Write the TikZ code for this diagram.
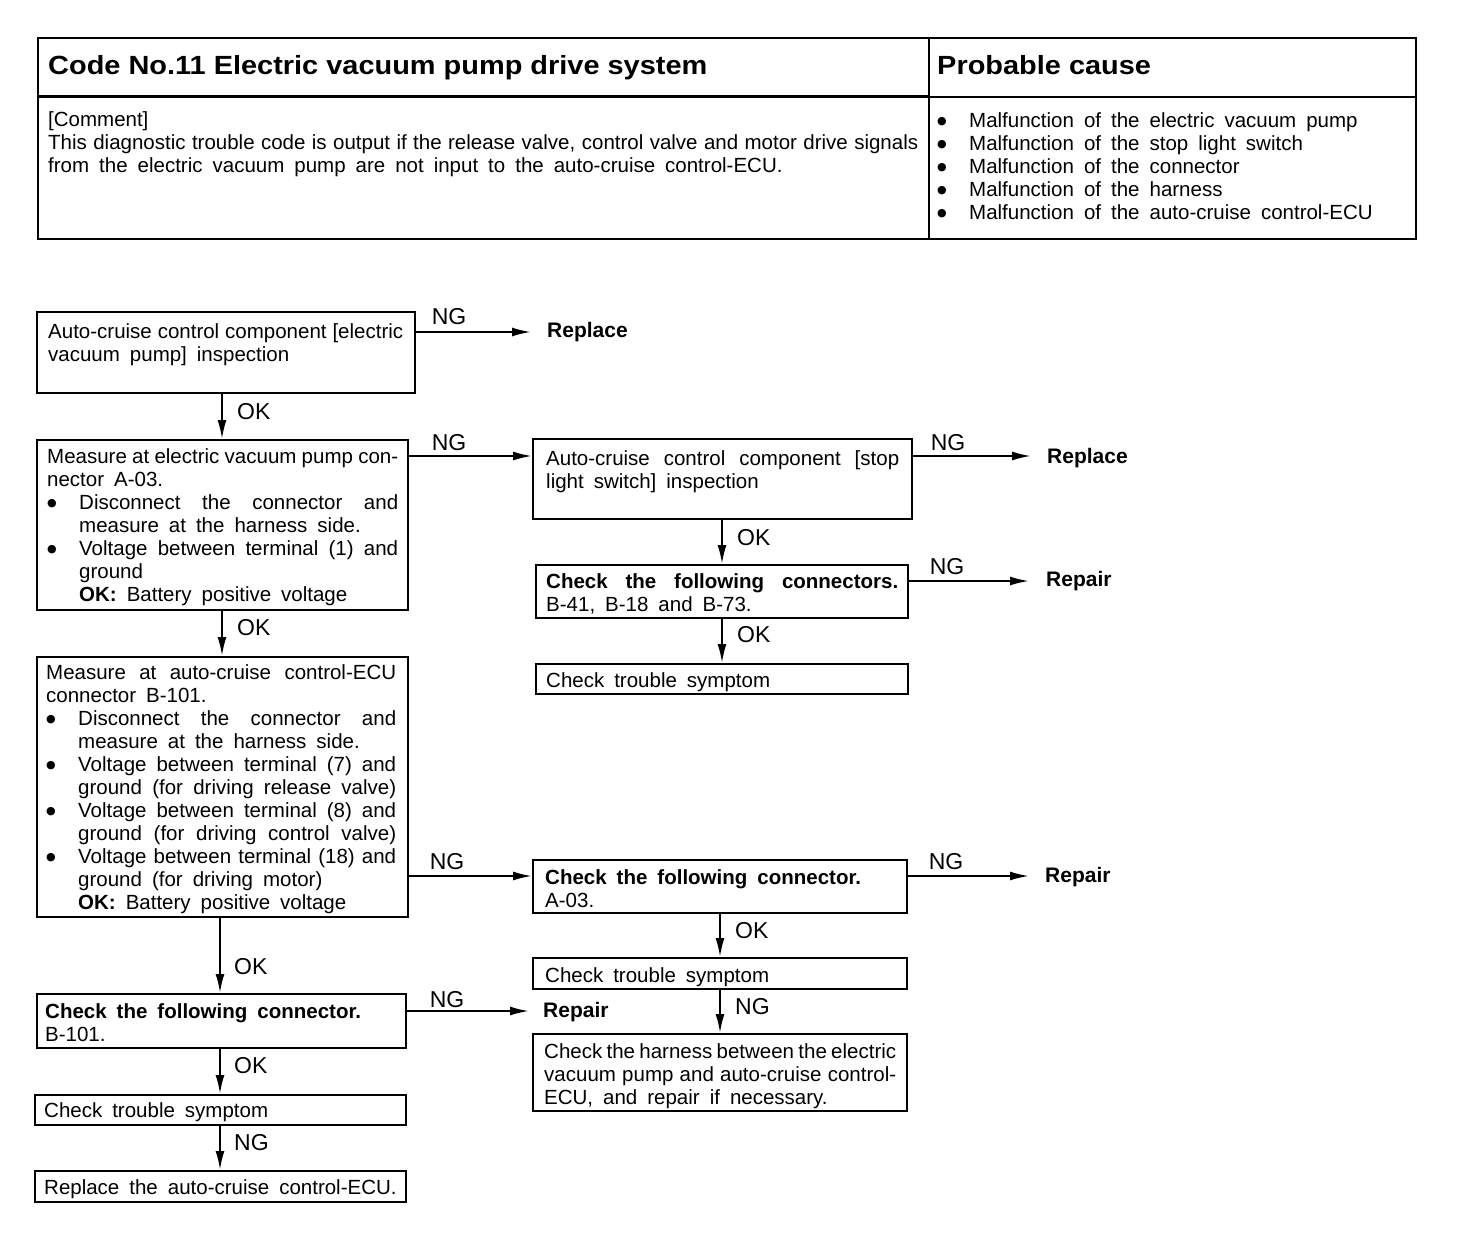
\documentclass[tikz,border=0pt]{standalone}
\usepackage{fontspec}
\setmainfont{Liberation Sans}
\newfontfamily\titlefont[FakeStretch=1.1]{Liberation Sans}
\newfontfamily\dvfont{DejaVu Sans}
\usetikzlibrary{arrows.meta,fit,calc}
\newcommand\nsp{\spaceskip=0.278em plus 30pt minus 0.1em\relax}
\newcommand\dotb{\raisebox{2.8pt}{\dvfont\fontsize{11}{11}\selectfont ●}}
\newcommand\jl[1]{\makebox[\hsize][s]{\nsp #1}}
\newcommand\bj[1]{\makebox[32pt][l]{\dotb}\makebox[\dimexpr\hsize-32pt\relax][s]{\nsp #1}}
\newcommand\indj[1]{\hspace*{32pt}\makebox[\dimexpr\hsize-32pt\relax][s]{\nsp #1}}
\newcommand\idn{\hspace*{32pt}}
\newcommand\rb[1]{\makebox[32pt][l]{\dotb}#1}
\newcommand\wsp{\spaceskip=10pt plus 6pt minus 4pt\relax}
\newcommand\st{\wsp\rule{0pt}{16pt}}
\begin{document}
\begin{tikzpicture}[x=1pt,y=-1pt,
  box/.style={draw, line width=2pt, inner sep=0pt},
  txt/.style={anchor=north west, inner sep=0pt, align=left, font=\fontsize{20.5}{23}\selectfont},
  lab/.style={inner sep=0pt, font=\fontsize{23}{24}\selectfont},
  term/.style={inner sep=0pt, anchor=west, font=\fontsize{21}{23}\selectfont\bfseries},
  arr/.style={line width=2pt, -{Latex[length=19pt,width=9pt]}},
  tline/.style={line width=2.4pt}]
\fill[white] (0,0) rectangle (1472,1232);
\useasboundingbox (0,0) rectangle (1472,1232);

% ---------- table ----------
\node[box, line width=2.4pt, fit={(38,38)(1416,239)}] (tab) {};
\node[box, line width=2.4pt, fit={(38,38)(929,96)}] (thl) {};
\node[box, line width=2.4pt, fit={(929,38)(1416,239)}] (thr) {};
\draw[tline] (thl.south west) -- (thl.south west -| tab.east);
\node[inner sep=0pt, anchor=base west, font=\fontsize{26.3}{30}\titlefont\bfseries] (title) at (48,74) {Code No.11 Electric vacuum pump drive system};
\node[inner sep=0pt, anchor=base west, font=\fontsize{26.3}{30}\titlefont\bfseries] (pc) at (937,74) {Probable cause};
\node[txt, text width=870pt] (comment) at (48,110) {\st[Comment]\\
\jl{This diagnostic trouble code is output if the release valve, control valve and motor drive signals}\\
from the electric vacuum pump are not input to the auto-cruise control-ECU.};
\node[txt, text width=460pt] (causes) at (937,111) {\st\rb{Malfunction of the electric vacuum pump}\\
\rb{Malfunction of the stop light switch}\\
\rb{Malfunction of the connector}\\
\rb{Malfunction of the harness}\\
\rb{Malfunction of the auto-cruise control-ECU}};

% ---------- boxes ----------
\node[box, fit={(37,312)(415,393)}] (b1) {};
\node[box, fit={(37,440)(408,610)}] (b2) {};
\node[box, fit={(533,439)(912,519)}] (b3) {};
\node[box, fit={(536,565)(908,618)}] (b4) {};
\node[box, fit={(536,664)(908,694)}] (b5) {};
\node[box, fit={(37,657)(408,917)}] (b6) {};
\node[box, fit={(533,860)(907,913)}] (b7) {};
\node[box, fit={(533,958)(907,989)}] (b8) {};
\node[box, fit={(533,1034)(907,1111)}] (b9) {};
\node[box, fit={(37,994)(406,1048)}] (b10) {};
\node[box, fit={(35,1095)(406,1125)}] (b11) {};
\node[box, fit={(35,1171)(406,1202)}] (b12) {};

% ---------- box texts ----------
\node[txt, text width=355pt] (t1) at (48,322) {\st\jl{Auto-cruise control component [electric}\\ vacuum pump] inspection};
\node[txt, text width=351pt] (t2) at (47,447) {\st\jl{Measure at electric vacuum pump con-}\\
nector A-03.\\
\bj{Disconnect the connector and}\\
\idn measure at the harness side.\\
\bj{Voltage between terminal (1) and}\\
\idn ground\\
\idn\textbf{OK:} Battery positive voltage};
\node[txt, text width=353pt] (t3) at (546,449) {\st\jl{Auto-cruise control component [stop}\\ light switch] inspection};
\node[txt, text width=352pt] (t4) at (546,572) {\st\jl{\textbf{Check the following connectors.}}\\ B-41, B-18 and B-73.};
\node[txt] (t5) at (546,671) {\st Check trouble symptom};
\node[txt, text width=350pt] (t6) at (46,663) {\st\jl{Measure at auto-cruise control-ECU}\\
connector B-101.\\
\bj{Disconnect the connector and}\\
\idn measure at the harness side.\\
\bj{Voltage between terminal (7) and}\\
\indj{ground (for driving release valve)}\\
\bj{Voltage between terminal (8) and}\\
\indj{ground (for driving control valve)}\\
\bj{Voltage between terminal (18) and}\\
\idn ground (for driving motor)\\
\idn\textbf{OK:} Battery positive voltage};
\node[txt] (t7) at (545,868) {\st\textbf{Check the following connector.}\\ A-03.};
\node[txt] (t8) at (545,966) {\st Check trouble symptom};
\node[txt, text width=352pt] (t9) at (544,1042) {\st\jl{Check the harness between the electric}\\
\jl{vacuum pump and auto-cruise control-}\\
ECU, and repair if necessary.};
\node[txt] (t10) at (45,1002) {\st\textbf{Check the following connector.}\\ B-101.};
\node[txt] (t11) at (44,1101) {\st Check trouble symptom};
\node[txt] (t12) at (44,1178) {\st Replace the auto-cruise control-ECU.};

% ---------- terminals ----------
\node[term] (r1) at (547,332) {Replace};
\node[term] (r2) at (1047,458) {Replace};
\node[term] (r3) at (1046,581) {Repair};
\node[term] (r4) at (1045,877) {Repair};
\node[term] (r5) at (543,1012) {Repair};

% ---------- column coordinates ----------
\coordinate (cA) at (222,0);
\coordinate (cB) at (722,0);
\coordinate (cC) at (220,0);
\coordinate (cD) at (720,0);
\coordinate (y1) at (0,332);
\coordinate (y2) at (0,456);
\coordinate (y3) at (0,581);
\coordinate (y4) at (0,876);
\coordinate (y5) at (0,1011);

% ---------- horizontal connectors ----------
\draw[arr, shorten >=16pt] (b1.east |- y1) -- (r1.west |- y1);
\draw[arr] (b2.east |- y2) -- (b3.west |- y2);
\draw[arr, shorten >=16pt] (b3.east |- y2) -- (r2.west |- y2);
\draw[arr, shorten >=17pt] (b4.east |- y3) -- (r3.west |- y3);
\draw[arr] (b6.east |- y4) -- (b7.west |- y4);
\draw[arr, shorten >=16pt] (b7.east |- y4) -- (r4.west |- y4);
\draw[arr, shorten >=14pt] (b10.east |- y5) -- (r5.west |- y5);

% ---------- vertical connectors ----------
\draw[arr] (cA |- b1.south) -- (cA |- b2.north);
\draw[arr] (cA |- b2.south) -- (cA |- b6.north);
\draw[arr] (cB |- b3.south) -- (cB |- b4.north);
\draw[arr] (cB |- b4.south) -- (cB |- b5.north);
\draw[arr] (cC |- b6.south) -- (cC |- b10.north);
\draw[arr] (cD |- b7.south) -- (cD |- b8.north);
\draw[arr] (cD |- b8.south) -- (cD |- b9.north);
\draw[arr] (cC |- b10.south) -- (cC |- b11.north);
\draw[arr] (cC |- b11.south) -- (cC |- b12.north);

% ---------- labels ----------
\node[lab] (n1) at (449,317) {NG};
\node[lab] (n2) at (449,443) {NG};
\node[lab] (n3) at (948,443) {NG};
\node[lab] (n4) at (947,567) {NG};
\node[lab] (n5) at (447,862) {NG};
\node[lab] (n6) at (946,862) {NG};
\node[lab] (n7) at (447,1000) {NG};
\node[lab, anchor=west] (n8) at (735,1007) {NG};
\node[lab, anchor=west] (n9) at (234,1143) {NG};
\node[lab, anchor=west] (o1) at (237,412) {OK};
\node[lab, anchor=west] (o2) at (237,628) {OK};
\node[lab, anchor=west] (o3) at (737,538) {OK};
\node[lab, anchor=west] (o4) at (737,635) {OK};
\node[lab, anchor=west] (o5) at (234,967) {OK};
\node[lab, anchor=west] (o6) at (735,931) {OK};
\node[lab, anchor=west] (o7) at (234,1066) {OK};
\end{tikzpicture}
\end{document}
